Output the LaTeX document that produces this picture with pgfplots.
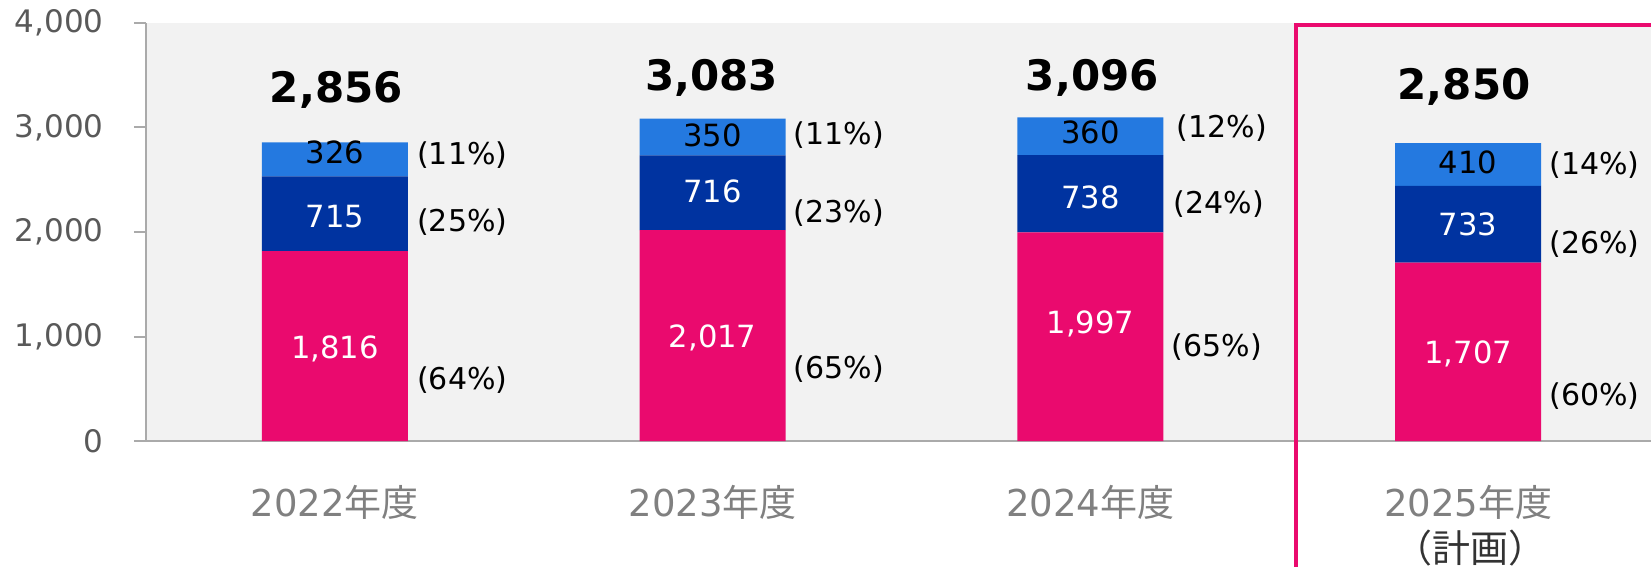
\documentclass[border=0pt]{standalone}
\usepackage{pgfplots}
\pgfplotsset{compat=1.18}
\usepackage{fontspec}
\setmainfont{DejaVu Sans}
\newfontfamily\cjk{Noto Sans CJK JP}
\DeclareRobustCommand\nendo{{\cjk 年度}}
\DeclareRobustCommand\keikaku{{\cjk （計画）}}
\definecolor{cpink}{RGB}{234,10,110}
\definecolor{cdark}{RGB}{0,51,160}
\definecolor{clight}{RGB}{36,121,224}
\definecolor{cbg}{RGB}{242,242,242}
\definecolor{caxis}{RGB}{170,170,170}
\definecolor{cytick}{RGB}{89,89,89}
\definecolor{cxtick}{RGB}{128,128,128}
\tikzset{
  seg/.style={font=\fontsize{15.3bp}{18bp}\selectfont, inner sep=0pt, anchor=center},
  pct/.style={font=\fontsize{15bp}{18bp}\selectfont, inner sep=0pt, anchor=west},
  tot/.style={font=\bfseries\fontsize{21bp}{24bp}\selectfont, inner sep=0pt, anchor=center},
}
\begin{document}
\begin{tikzpicture}
\useasboundingbox (0,0) rectangle (825.5bp,283.5bp);
\begin{axis}[
  at={(73bp,62.9bp)}, anchor=south west,
  scale only axis, width=752.5bp, height=209.2bp,
  xmin=-0.5, xmax=3.484, ymin=0, ymax=4000,
  ybar stacked, bar width=73bp,
  clip=false,
  axis background/.style={fill=cbg},
  axis x line*=bottom, axis y line*=left,
  axis line style={draw=caxis, line width=1bp},
  xtick={0,1,2,3},
  xticklabels={2022\nendo, 2023\nendo, 2024\nendo, 2025\nendo},
  x tick style={draw=none},
  ytick={0,1000,2000,3000,4000},
  tick align=outside, major tick length=6bp,
  y tick style={draw=caxis, line width=1bp},
  yticklabel style={/pgf/number format/1000 sep={,}, /pgf/number format/assume math mode=true, font=\fontsize{15.5bp}{18bp}\selectfont, text=cytick, inner sep=0pt, anchor=east, xshift=-15bp},
  xticklabel style={font=\fontsize{18.5bp}{22bp}\selectfont, text=cxtick, inner sep=0pt, anchor=center, yshift=-24.4bp},
]
\addplot[fill=cpink, draw=none] coordinates {(0,1816) (1,2017) (2,1997) (3,1707)};
\addplot[fill=cdark, draw=none] coordinates {(0,715) (1,716) (2,738) (3,733)};
\addplot[fill=clight, draw=none] coordinates {(0,326) (1,350) (2,360) (3,410)};

\coordinate (a1) at (axis cs:0,2766);
\coordinate (a2) at (axis cs:0,2143);
\coordinate (a3) at (axis cs:0,881);
\coordinate (b1) at (axis cs:1,2922);
\coordinate (b2) at (axis cs:1,2385);
\coordinate (b3) at (axis cs:1,986);
\coordinate (c1) at (axis cs:2,2956);
\coordinate (c2) at (axis cs:2,2334);
\coordinate (c3) at (axis cs:2,1123);
\coordinate (d1) at (axis cs:3,2662);
\coordinate (d2) at (axis cs:3,2076);
\coordinate (d3) at (axis cs:3,832);

\coordinate (pa1) at (axis cs:0.217,2731);
\coordinate (pa2) at (axis cs:0.217,2092);
\coordinate (pa3) at (axis cs:0.217,588);
\coordinate (pb1) at (axis cs:1.214,2922);
\coordinate (pb2) at (axis cs:1.214,2181);
\coordinate (pb3) at (axis cs:1.214,691);
\coordinate (pc1) at (axis cs:2.228,2991);
\coordinate (pc2) at (axis cs:2.220,2266);
\coordinate (pc3) at (axis cs:2.214,900);
\coordinate (pd1) at (axis cs:3.214,2644);
\coordinate (pd2) at (axis cs:3.214,1883);
\coordinate (pd3) at (axis cs:3.214,432);

\coordinate (ta) at (axis cs:0.004,3354);
\coordinate (tb) at (axis cs:0.997,3474);
\coordinate (tc) at (axis cs:2.005,3474);
\coordinate (td) at (axis cs:2.989,3388);

\coordinate (kk) at (axis cs:3.005,0);
\coordinate (fb) at (axis cs:2.544,-3000);
\coordinate (ft) at (axis cs:2.544,3976);
\coordinate (fr) at (axis cs:4,3976);
\end{axis}

\node[seg, text=black] at (a1) {326};
\node[seg, text=white] at (a2) {715};
\node[seg, text=white] at (a3) {1,816};
\node[seg, text=black] at (b1) {350};
\node[seg, text=white] at (b2) {716};
\node[seg, text=white] at (b3) {2,017};
\node[seg, text=black] at (c1) {360};
\node[seg, text=white] at (c2) {738};
\node[seg, text=white] at (c3) {1,997};
\node[seg, text=black] at (d1) {410};
\node[seg, text=white] at (d2) {733};
\node[seg, text=white] at (d3) {1,707};

\node[pct] at (pa1) {(11\%)};
\node[pct] at (pa2) {(25\%)};
\node[pct] at (pa3) {(64\%)};
\node[pct] at (pb1) {(11\%)};
\node[pct] at (pb2) {(23\%)};
\node[pct] at (pb3) {(65\%)};
\node[pct] at (pc1) {(12\%)};
\node[pct] at (pc2) {(24\%)};
\node[pct] at (pc3) {(65\%)};
\node[pct] at (pd1) {(14\%)};
\node[pct] at (pd2) {(26\%)};
\node[pct] at (pd3) {(60\%)};

\node[tot] at (ta) {2,856};
\node[tot] at (tb) {3,083};
\node[tot] at (tc) {3,096};
\node[tot] at (td) {2,850};

\node[font=\fontsize{19bp}{22bp}\selectfont, text=black!80, inner sep=0pt, anchor=center, yshift=-53.5bp] at (kk) {\keikaku};
\draw[cpink, line width=2bp] (fb) -- (ft) -- (fr);
\end{tikzpicture}
\end{document}
